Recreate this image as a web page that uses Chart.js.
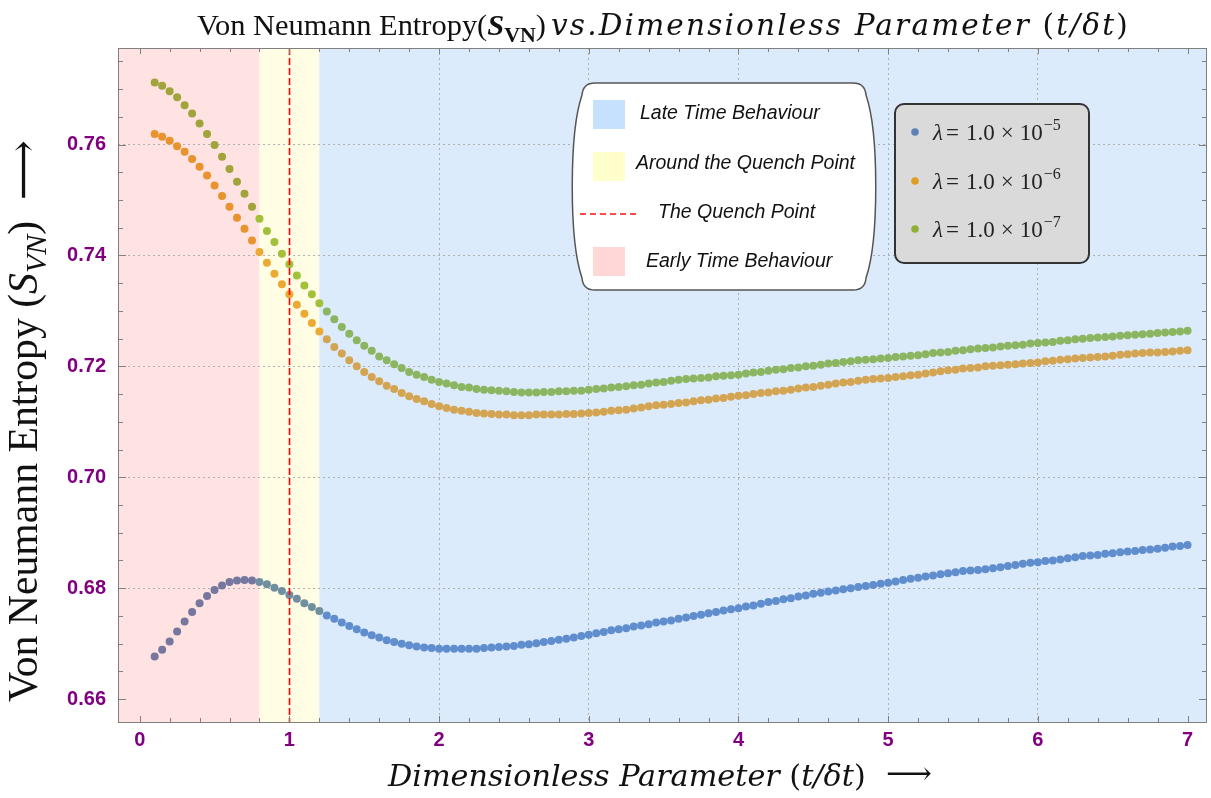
<!DOCTYPE html>
<html>
<head>
<meta charset="utf-8">
<script src="https://cdn.jsdelivr.net/npm/chart.js@4.4.0/dist/chart.umd.min.js"></script>
<style>
  html, body { margin: 0; padding: 0; background: #fff; }
  #wrap { width: 1211px; height: 798px; }
</style>
</head>
<body>
<div id="wrap"><canvas id="entropy" width="1211" height="798"></canvas></div>
<script>
// t / delta t
const tValues = [
  0.10,0.15,0.20,0.25,0.30,0.35,0.40,0.45,0.50,0.55,
  0.60,0.65,0.70,0.75,0.80,0.85,0.90,0.95,1.00,1.05,
  1.10,1.15,1.20,1.25,1.30,1.35,1.40,1.45,1.50,1.55,
  1.60,1.65,1.70,1.75,1.80,1.85,1.90,1.95,2.00,2.05,
  2.10,2.15,2.20,2.25,2.30,2.35,2.40,2.45,2.50,2.55,
  2.60,2.65,2.70,2.75,2.80,2.85,2.90,2.95,3.00,3.05,
  3.10,3.15,3.20,3.25,3.30,3.35,3.40,3.45,3.50,3.55,
  3.60,3.65,3.70,3.75,3.80,3.85,3.90,3.95,4.00,4.05,
  4.10,4.15,4.20,4.25,4.30,4.35,4.40,4.45,4.50,4.55,
  4.60,4.65,4.70,4.75,4.80,4.85,4.90,4.95,5.00,5.05,
  5.10,5.15,5.20,5.25,5.30,5.35,5.40,5.45,5.50,5.55,
  5.60,5.65,5.70,5.75,5.80,5.85,5.90,5.95,6.00,6.05,
  6.10,6.15,6.20,6.25,6.30,6.35,6.40,6.45,6.50,6.55,
  6.60,6.65,6.70,6.75,6.80,6.85,6.90,6.95,7.00
];

// lambda = 1.0e-5
const entropyL5 = [
  0.6677,0.6689,0.6704,0.6722,0.6740,0.6757,0.6773,0.6786,0.6797,0.6805,
  0.6811,0.6814,0.6815,0.6814,0.6811,0.6807,0.6801,0.6795,0.6788,0.6781,
  0.6773,0.6766,0.6759,0.6751,0.6745,0.6738,0.6732,0.6726,0.6720,0.6715,
  0.6711,0.6706,0.6703,0.6700,0.6697,0.6695,0.6693,0.6692,0.6691,0.6691,
  0.6691,0.6691,0.6691,0.6691,0.6692,0.6693,0.6694,0.6695,0.6696,0.6698,
  0.6699,0.6701,0.6703,0.6705,0.6707,0.6709,0.6711,0.6714,0.6716,0.6719,
  0.6721,0.6724,0.6726,0.6728,0.6731,0.6733,0.6735,0.6738,0.6740,0.6742,
  0.6745,0.6747,0.6750,0.6752,0.6755,0.6757,0.6760,0.6762,0.6764,0.6767,
  0.6769,0.6772,0.6775,0.6777,0.6780,0.6782,0.6785,0.6787,0.6790,0.6792,
  0.6794,0.6796,0.6798,0.6800,0.6802,0.6804,0.6806,0.6808,0.6810,0.6812,
  0.6815,0.6817,0.6819,0.6821,0.6823,0.6825,0.6827,0.6829,0.6831,0.6832,
  0.6833,0.6834,0.6836,0.6838,0.6840,0.6842,0.6844,0.6846,0.6847,0.6849,
  0.6850,0.6852,0.6854,0.6856,0.6858,0.6859,0.6860,0.6862,0.6863,0.6865,
  0.6866,0.6867,0.6869,0.6870,0.6871,0.6873,0.6875,0.6876,0.6878
];

// lambda = 1.0e-6
const entropyL6 = [
  0.7619,0.7614,0.7607,0.7597,0.7587,0.7574,0.7560,0.7544,0.7526,0.7507,
  0.7488,0.7468,0.7448,0.7427,0.7406,0.7387,0.7367,0.7348,0.7330,0.7311,
  0.7295,0.7278,0.7263,0.7249,0.7235,0.7223,0.7211,0.7200,0.7190,0.7181,
  0.7173,0.7165,0.7159,0.7152,0.7146,0.7141,0.7137,0.7132,0.7128,0.7125,
  0.7122,0.7120,0.7118,0.7116,0.7115,0.7114,0.7113,0.7113,0.7112,0.7112,
  0.7112,0.7113,0.7113,0.7113,0.7113,0.7114,0.7114,0.7115,0.7116,0.7117,
  0.7118,0.7120,0.7121,0.7122,0.7124,0.7126,0.7128,0.7130,0.7131,0.7132,
  0.7134,0.7135,0.7137,0.7139,0.7140,0.7142,0.7143,0.7145,0.7147,0.7148,
  0.7150,0.7152,0.7153,0.7155,0.7156,0.7158,0.7160,0.7162,0.7163,0.7165,
  0.7167,0.7169,0.7171,0.7172,0.7174,0.7176,0.7177,0.7178,0.7179,0.7181,
  0.7182,0.7184,0.7185,0.7187,0.7189,0.7191,0.7193,0.7194,0.7196,0.7197,
  0.7198,0.7200,0.7201,0.7202,0.7203,0.7204,0.7205,0.7206,0.7207,0.7209,
  0.7210,0.7212,0.7213,0.7214,0.7215,0.7216,0.7217,0.7218,0.7219,0.7221,
  0.7222,0.7223,0.7224,0.7225,0.7225,0.7226,0.7227,0.7228,0.7229
];

// lambda = 1.0e-7
const entropyL7 = [
  0.7712,0.7706,0.7696,0.7685,0.7671,0.7656,0.7638,0.7619,0.7599,0.7578,
  0.7556,0.7533,0.7511,0.7488,0.7466,0.7444,0.7424,0.7403,0.7384,0.7364,
  0.7346,0.7330,0.7314,0.7299,0.7285,0.7271,0.7259,0.7247,0.7237,0.7228,
  0.7218,0.7211,0.7204,0.7197,0.7190,0.7185,0.7181,0.7176,0.7172,0.7169,
  0.7166,0.7163,0.7162,0.7159,0.7158,0.7157,0.7156,0.7155,0.7154,0.7153,
  0.7153,0.7153,0.7154,0.7154,0.7155,0.7155,0.7156,0.7156,0.7158,0.7159,
  0.7160,0.7162,0.7163,0.7164,0.7166,0.7167,0.7169,0.7171,0.7172,0.7174,
  0.7176,0.7177,0.7178,0.7179,0.7180,0.7182,0.7183,0.7184,0.7185,0.7187,
  0.7189,0.7190,0.7192,0.7194,0.7195,0.7197,0.7198,0.7200,0.7201,0.7203,
  0.7205,0.7206,0.7208,0.7209,0.7211,0.7212,0.7213,0.7214,0.7215,0.7217,
  0.7218,0.7219,0.7220,0.7222,0.7224,0.7225,0.7226,0.7228,0.7229,0.7231,
  0.7232,0.7233,0.7234,0.7236,0.7237,0.7238,0.7239,0.7241,0.7242,0.7243,
  0.7244,0.7246,0.7247,0.7249,0.7250,0.7251,0.7252,0.7253,0.7254,0.7255,
  0.7256,0.7257,0.7258,0.7259,0.7260,0.7261,0.7262,0.7263,0.7264
];

const lambdaExponents = ['5', '6', '7'];
const xTickValues = [0, 1, 2, 3, 4, 5, 6, 7];
const yTickValues = [0.66, 0.68, 0.70, 0.72, 0.74, 0.76];
const earlyEnd = 0.8, quenchPoint = 1.0, quenchEnd = 1.2;
const regionLabels = ['Late Time Behaviour', 'Around the Quench Point', 'The Quench Point', 'Early Time Behaviour'];

const SERIF = '"Liberation Serif", "DejaVu Serif", "DejaVu Sans", serif';
const WIDE_SERIF = '"DejaVu Serif", "Liberation Serif", serif';
const SANS = '"Liberation Sans", Arial, sans-serif';
const PURPLE = '#800080';

// point tint depends on the shaded band it sits in
const tint = (pink, yellow, blue) => c => {
  const t = c.raw ? c.raw.x : 0;
  if (t < earlyEnd) return pink;
  if (t <= quenchEnd + 1e-9) return yellow;
  return blue;
};

const points = ys => tValues.map((t, i) => ({ x: t, y: ys[i] }));

// draws text pieces between x0 and x1; with no size given the size is fitted,
// with a size given the letters are spread to fill the span
function richText(ctx, parts, x0, x1, baseY, fixedSize) {
  const fontOf = (p, s) => `${p.style || ''} ${s * (p.scale || 1)}px ${p.family || SERIF}`;
  const probe = fixedSize || 20;
  let w = 0, n = 0;
  ctx.letterSpacing = '0px';
  parts.forEach(p => { ctx.font = fontOf(p, probe); w += ctx.measureText(p.t).width; n += [...p.t].length; });
  const size = fixedSize || probe * (x1 - x0) / w;
  const sp = fixedSize ? (x1 - x0 - w) / n : 0;
  let x = x0;
  ctx.textAlign = 'left';
  ctx.textBaseline = 'alphabetic';
  ctx.letterSpacing = sp.toFixed(2) + 'px';
  parts.forEach(p => {
    ctx.font = fontOf(p, size);
    ctx.fillText(p.t, x, baseY + (p.dy || 0) * size);
    x += ctx.measureText(p.t).width;
  });
  ctx.letterSpacing = '0px';
}

function scrollBox(ctx, l, t, r, b) {
  const c = 12, bow = 14;
  ctx.beginPath();
  ctx.moveTo(l + c, t);
  ctx.lineTo(r - c, t);
  ctx.quadraticCurveTo(r, t, r + 1, t + c);
  ctx.bezierCurveTo(r + bow, t + 50, r + bow, b - 50, r + 1, b - c);
  ctx.quadraticCurveTo(r, b, r - c, b);
  ctx.lineTo(l + c, b);
  ctx.quadraticCurveTo(l, b, l - 1, b - c);
  ctx.bezierCurveTo(l - bow, b - 50, l - bow, t + 50, l - 1, t + c);
  ctx.quadraticCurveTo(l, t, l + c, t);
  ctx.closePath();
}

const decor = {
  id: 'decor',
  beforeDraw(chart) {
    const { ctx, chartArea: a, scales: { x } } = chart;
    ctx.save();
    ctx.fillStyle = '#fff';
    ctx.fillRect(0, 0, chart.width, chart.height);
    const x1 = x.getPixelForValue(earlyEnd), x2 = x.getPixelForValue(quenchEnd);
    ctx.fillStyle = '#FFE2E2';
    ctx.fillRect(a.left, a.top, x1 - a.left, a.bottom - a.top);
    ctx.fillStyle = '#FFFDE3';
    ctx.fillRect(x1, a.top, x2 - x1, a.bottom - a.top);
    ctx.fillStyle = '#DCEBFC';
    ctx.fillRect(x2, a.top, a.right - x2, a.bottom - a.top);
    ctx.restore();
  },
  afterDatasetsDraw(chart) {
    const { ctx, chartArea: a, scales: { x } } = chart;
    const qx = Math.round(x.getPixelForValue(quenchPoint)) + 0.5;
    ctx.save();
    ctx.strokeStyle = '#FF0000';
    ctx.lineWidth = 1.6;
    ctx.setLineDash([7, 3]);
    ctx.beginPath();
    ctx.moveTo(qx, a.top);
    ctx.lineTo(qx, a.bottom);
    ctx.stroke();
    ctx.restore();
  },
  afterDraw(chart) {
    const { ctx, chartArea: a, scales: { x, y } } = chart;
    ctx.save();

    // frame with inward ticks on all sides
    ctx.strokeStyle = '#808080';
    ctx.lineWidth = 1;
    ctx.strokeRect(a.left + 0.5, a.top + 0.5, a.right - a.left - 1, a.bottom - a.top - 1);
    ctx.beginPath();
    for (let k = 0; k <= 35; k++) {
      const px = Math.round(x.getPixelForValue(k * 0.2)) + 0.5;
      const len = k % 5 === 0 ? 7 : 5;
      ctx.moveTo(px, a.bottom); ctx.lineTo(px, a.bottom - len);
      ctx.moveTo(px, a.top); ctx.lineTo(px, a.top + len - 1);
    }
    for (let k = 0; k <= 23; k++) {
      const py = Math.round(y.getPixelForValue(0.66 + k * 0.005)) + 0.5;
      const len = k % 4 === 0 ? 8 : 5;
      ctx.moveTo(a.left, py); ctx.lineTo(a.left + len, py);
      ctx.moveTo(a.right, py); ctx.lineTo(a.right - len, py);
    }
    ctx.stroke();

    // title and axis titles
    ctx.fillStyle = '#111';
    richText(ctx, [
      { t: 'Von Neumann Entropy(' },
      { t: 'S', style: 'italic bold' },
      { t: 'VN', style: 'bold', scale: 0.72, dy: 0.22 },
      { t: ')' }
    ], 197, 546, 35);
    richText(ctx, [
      { t: 'vs.Dimensionless Parameter ', style: 'italic', family: WIDE_SERIF },
      { t: '(', family: WIDE_SERIF },
      { t: 't/δt', style: 'italic', family: WIDE_SERIF },
      { t: ')', family: WIDE_SERIF }
    ], 551, 1130, 35, 29.5);

    richText(ctx, [
      { t: 'Dimensionless Parameter ', style: 'italic', family: WIDE_SERIF },
      { t: '(', family: WIDE_SERIF },
      { t: 't/δt', style: 'italic', family: WIDE_SERIF },
      { t: ')', family: WIDE_SERIF }
    ], 388, 866, 786);
    ctx.font = `32px ${SERIF}`;
    ctx.fillText('⟶', 886, 784);

    ctx.save();
    ctx.translate(37, 421);
    ctx.rotate(-Math.PI / 2);
    richText(ctx, [
      { t: 'Von Neumann Entropy (' },
      { t: 'S', style: 'italic' },
      { t: 'VN', style: 'italic', scale: 0.72, dy: 0.22 },
      { t: ')  ⟶' }
    ], -281, 281, 0);
    ctx.restore();

    // region legend
    ctx.fillStyle = '#fff';
    ctx.strokeStyle = '#555';
    ctx.lineWidth = 1.5;
    scrollBox(ctx, 583, 83, 865, 290);
    ctx.fill();
    ctx.stroke();
    const swatches = [['#C5E1FD', 100], ['#FFFFCC', 152], [null, 0], ['#FFD7D7', 247]];
    const textX = [640, 636, 658, 646];
    const textY = [114, 164, 213, 262];
    ctx.font = `italic 19.5px ${SANS}`;
    ctx.textBaseline = 'middle';
    ctx.textAlign = 'left';
    regionLabels.forEach((label, i) => {
      const [col, top] = swatches[i];
      if (col) {
        ctx.fillStyle = col;
        ctx.fillRect(593, top, 32, 29);
      } else {
        ctx.save();
        ctx.strokeStyle = '#FF1010';
        ctx.lineWidth = 1.5;
        ctx.setLineDash([6, 4]);
        ctx.beginPath();
        ctx.moveTo(580, 214); ctx.lineTo(638, 214);
        ctx.stroke();
        ctx.restore();
      }
      ctx.fillStyle = '#111';
      ctx.fillText(label, textX[i], textY[i]);
    });

    // lambda legend
    ctx.fillStyle = '#DADADA';
    ctx.strokeStyle = '#333';
    ctx.lineWidth = 2;
    ctx.beginPath();
    ctx.roundRect(895, 104, 194, 159, 9);
    ctx.fill();
    ctx.stroke();
    const dotCols = ['#5E81B5', '#E19C24', '#8FB032'];
    const rowY = [132, 181, 229];
    lambdaExponents.forEach((e, i) => {
      ctx.fillStyle = dotCols[i];
      ctx.beginPath();
      ctx.arc(915, rowY[i], 3.8, 0, Math.PI * 2);
      ctx.fill();
      ctx.fillStyle = '#222';
      ctx.textBaseline = 'alphabetic';
      let px = 933;
      const base = rowY[i] + 8;
      ctx.font = `italic 23px ${SERIF}`;
      ctx.fillText('λ', px, base);
      px += ctx.measureText('λ').width + 3;
      ctx.font = `23px ${SERIF}`;
      ctx.fillText('=', px, base);
      px += ctx.measureText('=').width + 7;
      ctx.fillText('1.0', px, base);
      px += ctx.measureText('1.0').width + 6;
      ctx.fillText('×', px, base);
      px += ctx.measureText('×').width + 6;
      ctx.fillText('10', px, base);
      px += ctx.measureText('10').width + 1;
      ctx.font = `16px ${SERIF}`;
      ctx.fillText('−' + e, px, base - 10);
    });

    ctx.restore();
  }
};

const hideEdge = (edges, col) => c =>
  c.tick && edges.some(v => Math.abs(c.tick.value - v) < 1e-9) ? 'rgba(0,0,0,0)' : col;

new Chart(document.getElementById('entropy'), {
  type: 'scatter',
  data: {
    datasets: [
      {
        label: 'λ = 1.0 × 10⁻⁵',
        data: points(entropyL5),
        pointRadius: 4,
        pointBorderWidth: 0,
        pointBackgroundColor: tint('#76779E', '#6F8FA0', '#5F8DCD')
      },
      {
        label: 'λ = 1.0 × 10⁻⁶',
        data: points(entropyL6),
        pointRadius: 4,
        pointBorderWidth: 0,
        pointBackgroundColor: tint('#E8932E', '#EBAA33', '#D3A553')
      },
      {
        label: 'λ = 1.0 × 10⁻⁷',
        data: points(entropyL7),
        pointRadius: 4,
        pointBorderWidth: 0,
        pointBackgroundColor: tint('#A0A43A', '#A2C03A', '#8CB562')
      }
    ]
  },
  options: {
    responsive: false,
    animation: false,
    devicePixelRatio: 1,
    layout: { padding: { top: 48, right: 4, left: 0, bottom: 0 } },
    plugins: {
      legend: { display: false },
      title: { display: false },
      tooltip: { enabled: false }
    },
    scales: {
      x: {
        type: 'linear',
        min: -0.145,
        max: 7.13,
        afterFit: s => { s.height = 75; },
        afterBuildTicks: s => { s.ticks = xTickValues.map(v => ({ value: v })); },
        ticks: {
          padding: 5,
          color: PURPLE,
          font: { family: SANS, size: 20, weight: 'bold' },
          callback: v => String(v)
        },
        grid: { drawTicks: false, color: hideEdge([0, 7], '#B0B0B0'), lineWidth: 1 },
        border: { display: false, dash: [2, 3] }
      },
      y: {
        type: 'linear',
        min: 0.6557,
        max: 0.7774,
        afterFit: s => { s.width = 118; },
        afterBuildTicks: s => { s.ticks = yTickValues.map(v => ({ value: v })); },
        ticks: {
          padding: 12,
          color: PURPLE,
          font: { family: SANS, size: 20, weight: 'bold' },
          callback: v => Number(v).toFixed(2)
        },
        grid: { drawTicks: false, color: hideEdge([0.66], '#B0B0B0'), lineWidth: 1 },
        border: { display: false, dash: [2, 3] }
      }
    }
  },
  plugins: [decor]
});
</script>
</body>
</html>
